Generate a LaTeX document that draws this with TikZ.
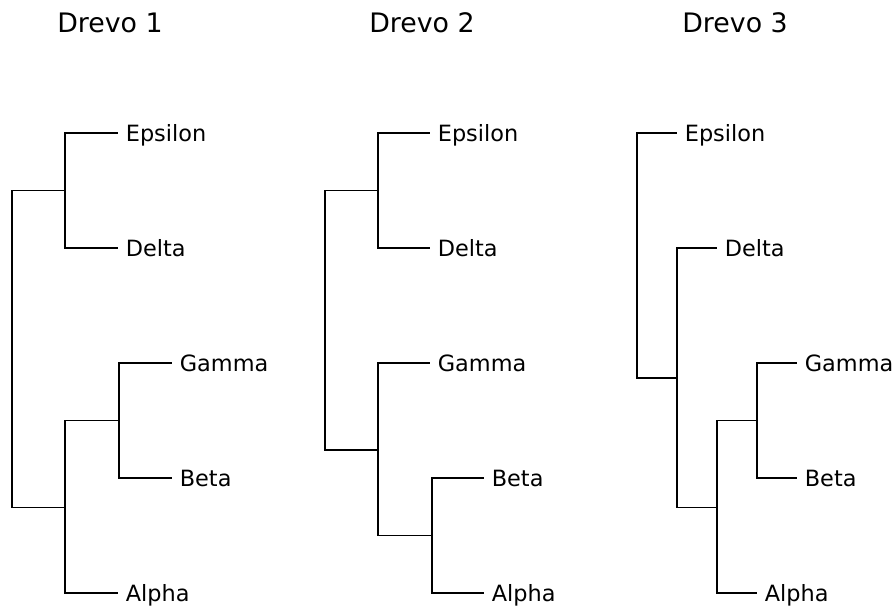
\documentclass[tikz,border=0pt]{standalone}
\usepackage{fontspec}
\setmainfont{DejaVu Sans}

\begin{document}
\begin{tikzpicture}[
    x = 1pt,
    y = -1pt,
    line width = 1.7pt,
    leaf/.style = {
      anchor = west,
      font = \fontsize{22.4}{26}\selectfont,
      inner xsep = 7pt,
      inner ysep = 0pt,
      text height = 16.3pt,
      text depth = 0pt
    },
    title/.style = {
      font = \fontsize{26.8}{30}\selectfont
    }
  ]
  \useasboundingbox (0,0) rectangle (894,608);

  % Drevo 1
  \node[title] (t1) at (110,23) {Drevo 1};
  \node[leaf] (e1) at (118,133) {Epsilon};
  \node[leaf] (d1) at (118,248) {Delta};
  \node[leaf] (g1) at (172,363) {Gamma};
  \node[leaf] (b1) at (172,478) {Beta};
  \node[leaf] (a1) at (118,593) {Alpha};
  \coordinate (ed1) at (65,190.5);
  \coordinate (gb1) at (119,420.5);
  \coordinate (gba1) at (65,507.5);
  \coordinate (r1) at (12,349);

  \draw (ed1) |- (e1.west);
  \draw (ed1) |- (d1.west);
  \draw (gb1) |- (g1.west);
  \draw (gb1) |- (b1.west);
  \draw (gba1) |- (gb1);
  \draw (gba1) |- (a1.west);
  \draw (r1) |- (ed1);
  \draw (r1) |- (gba1);

  % Drevo 2
  \node[title] (t2) at (422,23) {Drevo 2};
  \node[leaf] (e2) at (430,133) {Epsilon};
  \node[leaf] (d2) at (430,248) {Delta};
  \node[leaf] (g2) at (430,363) {Gamma};
  \node[leaf] (b2) at (484,478) {Beta};
  \node[leaf] (a2) at (484,593) {Alpha};
  \coordinate (ed2) at (378,190.5);
  \coordinate (ba2) at (432,535.5);
  \coordinate (gba2) at (378,450);
  \coordinate (r2) at (325,320);

  \draw (ed2) |- (e2.west);
  \draw (ed2) |- (d2.west);
  \draw (ba2) |- (b2.west);
  \draw (ba2) |- (a2.west);
  \draw (gba2) |- (g2.west);
  \draw (gba2) |- (ba2);
  \draw (r2) |- (ed2);
  \draw (r2) |- (gba2);

  % Drevo 3
  \node[title] (t3) at (735,23) {Drevo 3};
  \node[leaf] (e3) at (677,133) {Epsilon};
  \node[leaf] (d3) at (717,248) {Delta};
  \node[leaf] (g3) at (797,363) {Gamma};
  \node[leaf] (b3) at (797,478) {Beta};
  \node[leaf] (a3) at (757,593) {Alpha};
  \coordinate (gb3) at (757,420.5);
  \coordinate (gba3) at (717,507.5);
  \coordinate (dr3) at (677,378);
  \coordinate (r3) at (637,255.5);

  \draw (gb3) |- (g3.west);
  \draw (gb3) |- (b3.west);
  \draw (gba3) |- (gb3);
  \draw (gba3) |- (a3.west);
  \draw (dr3) |- (d3.west);
  \draw (dr3) |- (gba3);
  \draw (r3) |- (e3.west);
  \draw (r3) |- (dr3);

\end{tikzpicture}
\end{document}
